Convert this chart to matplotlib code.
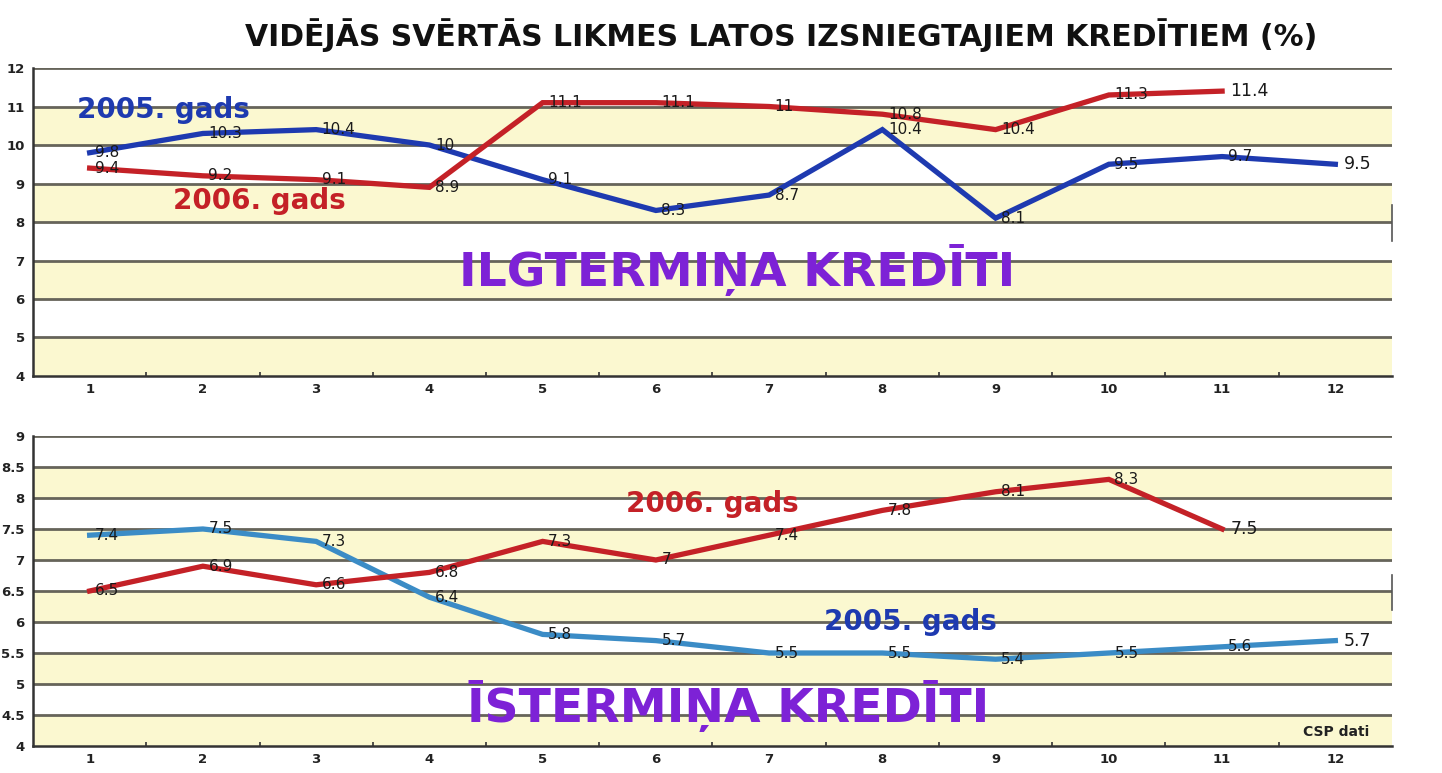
import matplotlib.pyplot as plt
import numpy as np

months = list(range(1, 13))

# ilgtermina krediti
long_2005 = [9.8, 10.3, 10.4, 10, 9.1, 8.3, 8.7, 10.4, 8.1, 9.5, 9.7, 9.5]
long_2006 = [9.4, 9.2, 9.1, 8.9, 11.1, 11.1, 11, 10.8, 10.4, 11.3, 11.4]

# istermina krediti
short_2005 = [7.4, 7.5, 7.3, 6.4, 5.8, 5.7, 5.5, 5.5, 5.4, 5.5, 5.6, 5.7]
short_2006 = [6.5, 6.9, 6.6, 6.8, 7.3, 7, 7.4, 7.8, 8.1, 8.3, 7.5]

top_ticks = [4, 5, 6, 7, 8, 9, 10, 11, 12]
bot_ticks = [4, 4.5, 5, 5.5, 6, 6.5, 7, 7.5, 8, 8.5, 9]
bot_ticklabels = ['4', '4.5', '5', '5.5', '6', '6.5', '7', '7.5', '8', '8.5', '9']

title = 'VIDĒJĀS SVĒRTĀS LIKMES LATOS IZSNIEGTAJIEM KREDĪTIEM (%)'

plt.rcParams['font.family'] = ['DejaVu Sans']

yellow = '#fbf8d0'
grid_c = '#66645a'
blue_dark = '#1e3ab0'
blue_light = '#3b8cc6'
red = '#c42127'
purple = '#7d22d6'

fig = plt.figure(figsize=(14.42, 7.73), dpi=100)
ax1 = fig.add_axes([0.0229, 0.5136, 0.9424, 0.3984])
ax2 = fig.add_axes([0.0229, 0.0349, 0.9424, 0.4011])


def style_axis(ax, ticks, labels):
    ax.set_xlim(0.5, 12.5)
    ax.set_ylim(ticks[0], ticks[-1])
    for i in range(len(ticks) - 1):
        if (len(ticks) - 2 - i) % 2 == 1:
            ax.axhspan(ticks[i], ticks[i + 1], color=yellow, zorder=0, lw=0)
    for t in ticks[1:]:
        ax.axhline(t, color=grid_c, lw=2.0, zorder=1)
    ax.set_yticks(ticks)
    ax.set_yticklabels(labels, fontsize=9.5, fontweight='bold', color='#222222')
    ax.set_xticks(months)
    ax.set_xticklabels([str(m) for m in months], fontsize=9.5, fontweight='bold', color='#222222')
    ax.set_xticks(np.arange(1.5, 12.5, 1), minor=True)
    ax.tick_params(axis='x', which='major', length=0, pad=5)
    ax.tick_params(axis='x', which='minor', length=3, width=1.2, color='#333333', direction='in')
    ax.tick_params(axis='y', length=0, pad=6)
    for s in ['top', 'right']:
        ax.spines[s].set_visible(False)
    ax.spines['left'].set_color('#333333')
    ax.spines['left'].set_linewidth(1.8)
    ax.spines['bottom'].set_color('#333333')
    ax.spines['bottom'].set_linewidth(1.8)


style_axis(ax1, top_ticks, [str(t) for t in top_ticks])
style_axis(ax2, bot_ticks, bot_ticklabels)

# small marks at the right edge
ax1.plot([12.5, 12.5], [7.5, 8.45], color='#555555', lw=1.2, clip_on=False)
ax2.plot([12.5, 12.5], [6.2, 6.75], color='#555555', lw=1.2, clip_on=False)


def draw_series(ax, vals, color):
    x = months[:len(vals)]
    ax.plot(x, vals, color=color, lw=3.8, solid_joinstyle='miter', zorder=3)
    for i, v in enumerate(vals):
        last = i == len(vals) - 1
        ax.annotate('%g' % v, (x[i], v), xytext=(6 if last else 4, 0),
                    textcoords='offset points', ha='left', va='center',
                    fontsize=12.5 if last else 11, color='#1a1a1a', zorder=4)


draw_series(ax1, long_2005, blue_dark)
draw_series(ax1, long_2006, red)
draw_series(ax2, short_2005, blue_light)
draw_series(ax2, short_2006, red)

ax1.text(1.65, 10.9, '2005. gads', color=blue_dark, fontsize=20, fontweight='bold',
         ha='center', va='center', zorder=5)
ax1.text(2.5, 8.55, '2006. gads', color=red, fontsize=20, fontweight='bold',
         ha='center', va='center', zorder=5)
ax2.text(6.5, 7.9, '2006. gads', color=red, fontsize=20, fontweight='bold',
         ha='center', va='center', zorder=5)
ax2.text(8.25, 6.0, '2005. gads', color=blue_dark, fontsize=20, fontweight='bold',
         ha='center', va='center', zorder=5)

ax1.text(6.72, 6.75, 'ILGTERMIŅA KREDĪTI', color=purple,
         fontsize=34, fontweight='bold', ha='center', va='center', zorder=5)
ax2.text(6.64, 4.65, 'ĪSTERMIŅA KREDĪTI', color=purple,
         fontsize=34, fontweight='bold', ha='center', va='center', zorder=5)

ax2.text(12.3, 4.22, 'CSP dati', fontsize=10, fontweight='bold', ha='right',
         va='center', color='#222222', zorder=5)

fig.text(0.542, 0.955, title, fontsize=21.5, fontweight='bold', ha='center', va='center',
         color='#111111')

fig.savefig('out.png', dpi=100)
